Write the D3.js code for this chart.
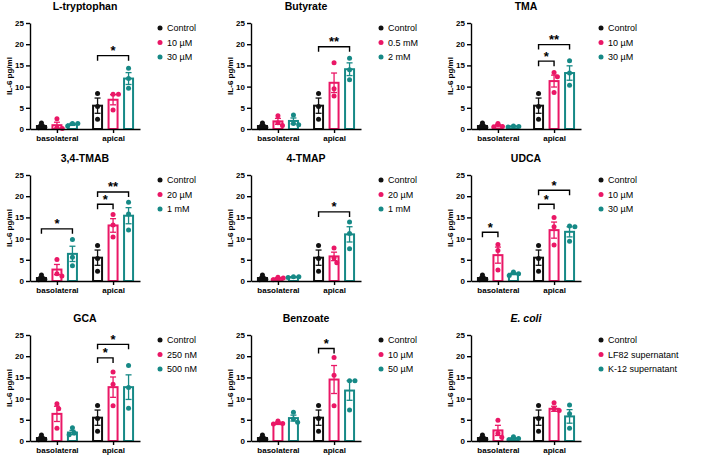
<!DOCTYPE html>
<meta charset="utf-8">
<style>
body { margin: 0; background: #fff; }
svg { font-family: "Liberation Sans", Arial, Helvetica, sans-serif; }
.axis path, .axis line { stroke: #000; stroke-width: 1.4; }
.axis text { font-size: 8px; font-weight: bold; fill: #000; }
.title { font-size: 10.5px; font-weight: bold; text-anchor: middle; }
.ylabel { font-size: 8px; font-weight: bold; text-anchor: middle; }
.legend text { font-size: 9px; }
.star { font-size: 13px; font-weight: bold; text-anchor: middle; }
</style>
<svg width="712" height="458"></svg>
<script src="https://d3js.org/d3.v7.min.js"></script>
<script>

// ---- data ----
var groups = ["basolateral", "apical"];

var titles = ["L-tryptophan", "Butyrate", "TMA", "3,4-TMAB", "4-TMAP", "UDCA", "GCA", "Benzoate", "E. coli"];

var legends = [
  ["Control", "10 µM", "30 µM"],
  ["Control", "0.5 mM", "2 mM"],
  ["Control", "10 µM", "30 µM"],
  ["Control", "20 µM", "1 mM"],
  ["Control", "20 µM", "1 mM"],
  ["Control", "10 µM", "30 µM"],
  ["Control", "250 nM", "500 nM"],
  ["Control", "10 µM", "50 µM"],
  ["Control", "LF82 supernatant", "K-12 supernatant"]
];

// means[panel][group][condition]
var means = [
  [[0.7, 0.9, 1.1], [5.5, 6.9, 11.9]],
  [[0.7, 1.8, 1.9], [5.5, 10.9, 14.1]],
  [[0.7, 0.8, 0.6], [5.5, 11.3, 13.2]],
  [[0.7, 2.7, 6.4], [5.5, 13.1, 15.4]],
  [[0.7, 0.6, 0.9], [5.5, 5.8, 11.0]],
  [[0.7, 6.1, 1.7], [5.5, 12.0, 11.6]],
  [[0.7, 6.4, 2.0], [5.5, 12.7, 12.7]],
  [[0.7, 4.2, 5.4], [5.5, 14.5, 11.9]],
  [[0.7, 2.5, 0.6], [5.5, 7.6, 5.8]]
];

var sems = [
  [[0.35, 0.7, 0.25], [1.8, 1.2, 1.4]],
  [[0.35, 0.7, 0.7], [1.8, 2.3, 1.5]],
  [[0.35, 0.3, 0.1], [1.8, 1.4, 1.7]],
  [[0.35, 1.2, 1.8], [1.8, 1.6, 1.9]],
  [[0.35, 0.2, 0.1], [1.8, 1.0, 1.8]],
  [[0.35, 1.9, 0.2], [1.8, 1.9, 1.2]],
  [[0.35, 1.8, 0.5], [1.8, 2.4, 2.9]],
  [[0.35, 0.3, 0.7], [1.8, 3.3, 2.3]],
  [[0.35, 1.2, 0.2], [1.8, 0.6, 1.6]]
];

// individual replicates
var points = [
  [[[1.4, 0.4, 0.3], [2.4, 0.3, 0.1], [1.3, 1.3, 0.7]], [[8.4, 5.3, 2.3], [8.2, 8.2, 4.5], [14.3, 11.9, 9.6]]],
  [[[1.4, 0.4, 0.3], [3.1, 1.5, 0.8], [3.3, 1.3, 1.0]], [[8.4, 5.3, 2.3], [15.6, 9.5, 7.8], [16.7, 14.0, 11.6]]],
  [[[1.4, 0.4, 0.3], [1.3, 0.6, 0.5], [0.7, 0.6, 0.5]], [[8.4, 5.3, 2.3], [13.3, 12.3, 8.6], [16.1, 13.2, 10.3]]],
  [[[1.4, 0.4, 0.3], [5.1, 1.7, 1.2], [9.8, 5.6, 3.6]], [[8.4, 5.3, 2.3], [15.7, 13.2, 10.4], [18.6, 15.8, 12.0]]],
  [[[1.4, 0.4, 0.3], [0.9, 0.7, 0.3], [1.0, 1.0, 0.8]], [[8.4, 5.3, 2.3], [7.8, 5.4, 4.3], [13.9, 11.2, 7.6]]],
  [[[1.4, 0.4, 0.3], [8.6, 7.2, 2.6], [2.1, 1.7, 1.3]], [[8.4, 5.3, 2.3], [15.0, 12.8, 8.5], [13.0, 12.8, 9.4]]],
  [[[1.4, 0.4, 0.3], [8.8, 7.6, 3.0], [3.1, 1.9, 1.5]], [[8.4, 5.3, 2.3], [16.3, 13.4, 8.3], [17.8, 12.6, 7.7]]],
  [[[1.4, 0.4, 0.3], [4.7, 4.1, 4.0], [6.8, 5.2, 4.4]], [[8.4, 5.3, 2.3], [19.7, 15.5, 8.3], [14.2, 14.2, 7.3]]],
  [[[1.4, 0.4, 0.3], [4.9, 1.8, 0.9], [1.0, 0.6, 0.3]], [[8.4, 5.3, 2.3], [9.0, 7.6, 7.2], [8.5, 6.4, 3.0]]]
];

// significance brackets: [group, fromCond, toCond, height, label]
var sigs = [
  [[1, 0, 2, 17.3, "*"]],
  [[1, 0, 2, 19.4, "**"]],
  [[1, 0, 1, 16.0, "*"], [1, 0, 2, 19.9, "**"]],
  [[0, 0, 2, 12.3, "*"], [1, 0, 1, 18.1, "*"], [1, 0, 2, 21.0, "**"]],
  [[1, 0, 2, 16.3, "*"]],
  [[0, 0, 1, 11.5, "*"], [1, 0, 1, 18.1, "*"], [1, 0, 2, 21.4, "*"]],
  [[1, 0, 1, 19.6, "*"], [1, 0, 2, 22.8, "*"]],
  [[1, 0, 1, 21.8, "*"]],
  []
];

var yTicks = [0, 5, 10, 15, 20, 25];

// ---- layout ----
var colors = ["#111111", "#ea1766", "#168986"];
var colX = [30, 251, 471],
    rowZero = [129, 281, 441],
    plotW = 110,
    plotH = 106,
    barOff = 15.5,
    barW = 9,
    r = 2.5;

var svg = d3.select("svg");

var y = d3.scaleLinear().domain([0, 25]).range([plotH, 0]);
var x = d3.scalePoint().domain(groups).range([0, plotW]).padding(0.48);

// simple beeswarm so overlapping replicates sit side by side
function swarm(vals) {
  var D = 2 * r + 0.4, placed = [];
  var order = d3.range(vals.length).sort(function(a, b) { return vals[b] - vals[a]; });
  var off = vals.map(function() { return 0; });
  order.forEach(function(i) {
    var py = y(vals[i]);
    var cands = [0];
    placed.forEach(function(p) {
      var dy = Math.abs(p.y - py);
      if (dy < D) {
        var dx = Math.sqrt(D * D - dy * dy);
        cands.push(p.x + dx, p.x - dx);
      }
    });
    cands.sort(function(a, b) { return Math.abs(a) - Math.abs(b); });
    var best = cands.find(function(c) {
      return placed.every(function(p) {
        return Math.hypot(p.x - c, p.y - py) >= D - 0.01;
      });
    });
    off[i] = best;
    placed.push({x: best, y: py});
  });
  return off;
}

titles.forEach(function(title, pi) {
  var x0 = colX[pi % 3],
      top = rowZero[Math.floor(pi / 3)] - plotH;

  var g = svg.append("g").attr("transform", "translate(" + x0 + "," + top + ")");

  // title
  var t = g.append("text")
      .attr("class", "title")
      .attr("x", plotW / 2)
      .attr("y", -13)
      .text(title);
  if (title === "E. coli") t.style("font-style", "italic");

  // y label
  g.append("text")
      .attr("class", "ylabel")
      .attr("transform", "translate(-18," + plotH / 2 + ") rotate(-90)")
      .text("IL-6 pg/ml");

  // bars, error bars, dots
  groups.forEach(function(grp, gi) {
    for (var ci = 0; ci < 3; ci++) {
      var cx = x(grp) + (ci - 1) * barOff,
          m = means[pi][gi][ci],
          s = sems[pi][gi][ci],
          col = colors[ci];

      g.append("rect")
          .attr("x", cx - barW / 2)
          .attr("y", y(m))
          .attr("width", barW)
          .attr("height", y(0) - y(m))
          .attr("fill", "#fff")
          .attr("stroke", col)
          .attr("stroke-width", 2);

      var eb = g.append("g").attr("stroke", col).attr("stroke-width", 1.3);
      eb.append("line").attr("x1", cx).attr("x2", cx).attr("y1", y(m - s)).attr("y2", y(m + s));
      eb.append("line").attr("x1", cx - 3).attr("x2", cx + 3).attr("y1", y(m + s)).attr("y2", y(m + s));
      eb.append("line").attr("x1", cx - 3).attr("x2", cx + 3).attr("y1", y(m - s)).attr("y2", y(m - s));

      var vals = points[pi][gi][ci],
          off = swarm(vals);
      g.selectAll(null)
        .data(vals)
        .enter().append("circle")
          .attr("cx", function(d, i) { return cx + off[i]; })
          .attr("cy", function(d) { return y(d); })
          .attr("r", r)
          .attr("fill", col);
    }
  });

  // axes
  g.append("g")
      .attr("class", "axis")
      .call(d3.axisLeft(y).tickValues(yTicks).tickSize(4).tickPadding(2).tickSizeOuter(0));

  g.append("g")
      .attr("class", "axis")
      .attr("transform", "translate(0," + plotH + ")")
      .call(d3.axisBottom(x).tickSize(4).tickPadding(2).tickSizeOuter(0));

  // significance brackets
  sigs[pi].forEach(function(sg) {
    var xa = x(groups[sg[0]]) + (sg[1] - 1) * barOff,
        xb = x(groups[sg[0]]) + (sg[2] - 1) * barOff,
        yy = y(sg[3]);
    g.append("path")
        .attr("d", "M" + xa + "," + (yy + 5) + "V" + yy + "H" + xb + "V" + (yy + 5))
        .attr("fill", "none")
        .attr("stroke", "#000")
        .attr("stroke-width", 1.4);
    g.append("text")
        .attr("class", "star")
        .attr("x", (xa + xb) / 2)
        .attr("y", yy - 0.5)
        .text(sg[4]);
  });

  // legend
  var lg = g.append("g").attr("class", "legend")
      .attr("transform", "translate(130,5)");
  legends[pi].forEach(function(lab, i) {
    lg.append("circle")
        .attr("cx", 0)
        .attr("cy", i * 14.5)
        .attr("r", r)
        .attr("fill", colors[i]);
    lg.append("text")
        .attr("x", 7)
        .attr("y", i * 14.5 + 3.2)
        .text(lab);
  });
});

</script>
